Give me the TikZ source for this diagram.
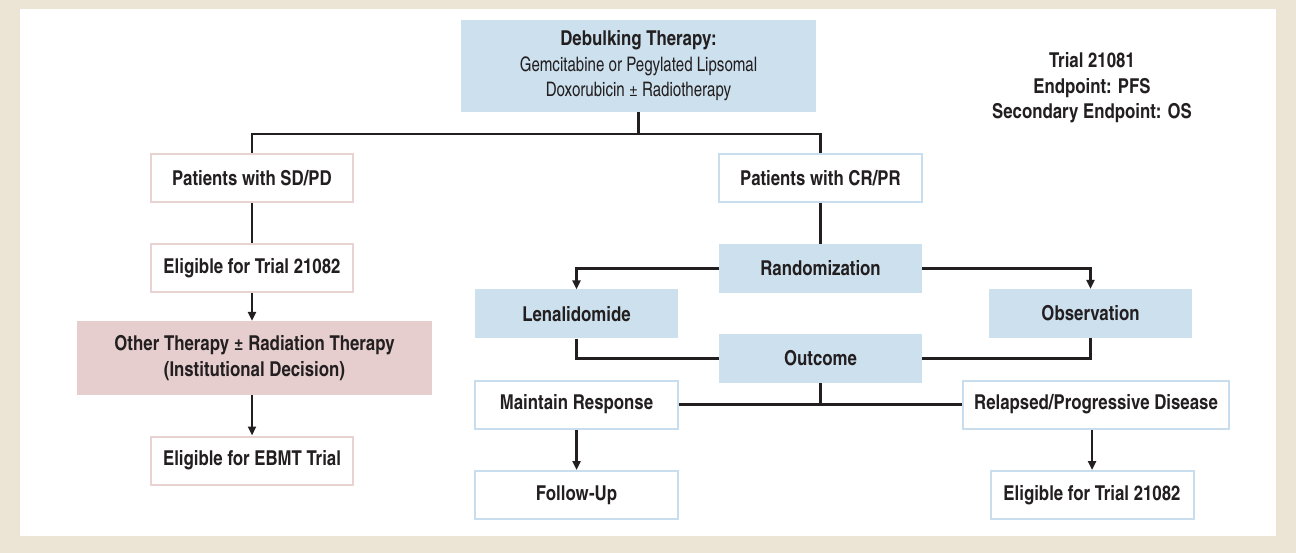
\documentclass[tikz,border=0pt]{standalone}
\usepackage{fontspec}
\setmainfont{texgyreheroscn}[Extension=.otf, UprightFont=*-regular, BoldFont=*-bold]
\usetikzlibrary{arrows.meta}
\definecolor{framebg}{HTML}{ECE4D5}
\definecolor{bluefill}{HTML}{CCE0EE}
\definecolor{blueline}{HTML}{C8DEEE}
\definecolor{pinkfill}{HTML}{E6CECE}
\definecolor{pinkline}{HTML}{E8D2D2}
\definecolor{ink}{HTML}{231F20}
% lighter, narrower face for the drug names in the top box
\newcommand{\plain}{\fontsize{20}{25.5}\selectfont\mdseries\addfontfeature{FakeStretch=0.92}}
\tikzset{
  every node/.style={font=\fontsize{20.5}{25.5}\selectfont\bfseries, text=ink, align=center, inner sep=0pt},
  bluebox/.style={fill=bluefill, minimum width=203pt, minimum height=49pt},
  blueframe/.style={fill=white, draw=blueline, line width=2pt, minimum width=203pt, minimum height=48pt},
  pinkframe/.style={fill=white, draw=pinkline, line width=2pt, minimum width=202pt, minimum height=48pt},
  pinkbox/.style={fill=pinkfill, minimum width=355pt, minimum height=74pt},
  link/.style={draw=ink, line width=2.6pt},
  arrow/.style={link, -{Triangle[length=9pt,width=8pt]}},
}
\begin{document}
\begin{tikzpicture}[x=1pt, y=-1pt]
  % frame and white panel
  \fill[framebg] (0,0) rectangle (1296,553);
  \fill[white] (20,9) rectangle (1276,536);
  \useasboundingbox (0,0) rectangle (1296,553);

  % top box
  \node[bluebox, minimum width=355pt, minimum height=92pt] (deb) at (638.5,66)
    {Debulking Therapy:\\\plain Gemcitabine or Pegylated Lipsomal\\\plain Doxorubicin ± Radiotherapy};
  \node (trial) at (1092,88) {Trial 21081\\Endpoint: PFS\\Secondary Endpoint: OS};

  % left branch
  \node[pinkframe] (sdpd) at (252,178) {Patients with SD/PD};
  \node[pinkframe] (elig1) at (252,268.5) {Eligible for Trial 21082};
  \node[pinkbox] (other) at (254.5,358) {Other Therapy ± Radiation Therapy\\(Institutional Decision)};
  \node[pinkframe] (ebmt) at (252,460.5) {Eligible for EBMT Trial};

  % right branch
  \node[blueframe] (crpr) at (820.5,178) {Patients with CR/PR};
  \node[bluebox] (rand) at (820.5,268.5) {Randomization};
  \node[bluebox] (len) at (576.5,314) {Lenalidomide};
  \node[bluebox] (obs) at (1090.5,313.5) {Observation};
  \node[bluebox] (outc) at (820.5,358.5) {Outcome};
  \node[blueframe] (maint) at (576.5,404.5) {Maintain Response};
  \node[blueframe, minimum width=266pt] (relap) at (1096,404.5) {Relapsed/Progressive Disease};
  \node[blueframe] (fu) at (576.5,495) {Follow-Up};
  \node[blueframe] (elig2) at (1092,495) {Eligible for Trial 21082};

  % junctions
  \coordinate (split) at (638.5,134);
  \coordinate (resp) at (820.5,405);

  % connectors
  \draw[link] (deb.south) -- (split);
  \draw[link] (sdpd.north) |- (split) -| (crpr.north);
  \draw[link] (sdpd.south) -- (elig1.north);
  \draw[arrow] (elig1.south) -- (elig1.south |- other.north);
  \draw[arrow] (ebmt.north |- other.south) -- (ebmt.north);

  \draw[link] (crpr.south) -- (rand.north);
  \draw[arrow] (rand.west) -| (len.north);
  \draw[arrow] (rand.east) -| (obs.north);
  \draw[link] (len.south) |- (outc.west);
  \draw[link] (obs.south) |- (outc.east);
  \draw[link] (outc.south) -- (resp);
  \draw[link] (maint.east) -- (relap.west);
  \draw[arrow] (maint.south) -- (fu.north);
  \draw[arrow] (elig2.north |- relap.south) -- (elig2.north);
\end{tikzpicture}
\end{document}
